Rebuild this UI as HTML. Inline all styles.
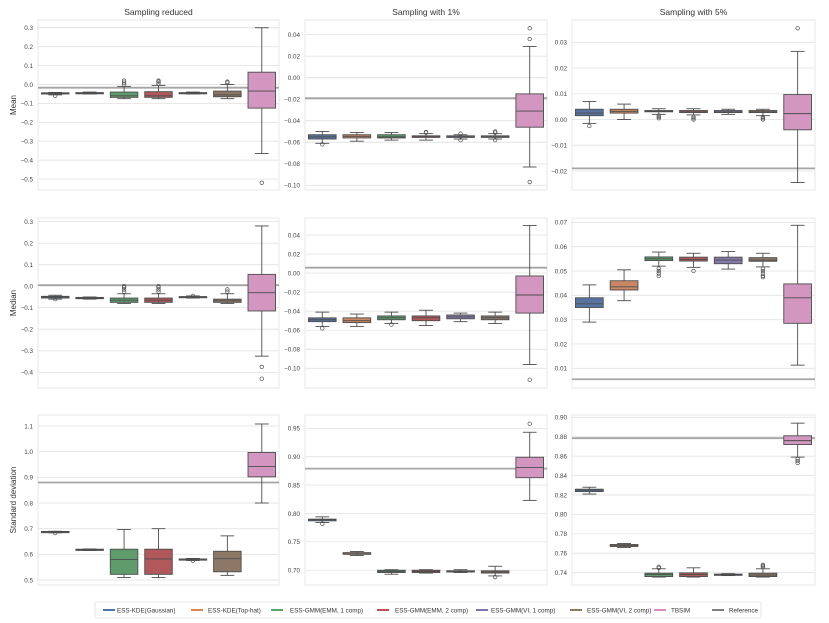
<!DOCTYPE html>
<html><head><meta charset="utf-8"><style>
body{margin:0;background:#fff;}
svg{display:block;font-family:"Liberation Sans",sans-serif;}
</style></head><body>
<svg id="fig" width="829" height="623" viewBox="0 0 829 623" xmlns="http://www.w3.org/2000/svg"></svg>
<script>
const categories = ["ESS-KDE(Gaussian)","ESS-KDE(Top-hat)","ESS-GMM(EMM, 1 comp)","ESS-GMM(EMM, 2 comp)","ESS-GMM(VI, 1 comp)","ESS-GMM(VI, 2 comp)","TBSIM"];
const colTitles = ["Sampling reduced","Sampling with 1%","Sampling with 5%"];
const rowTitles = ["Mean","Median","Standard deviation"];
// each box: [whisker low, q1, median, q3, whisker high, [outliers]]
const meanReduced = [[-0.055,-0.05,-0.047,-0.044,-0.042,[-0.06]],[-0.05,-0.048,-0.046,-0.043,-0.04,[]],[-0.075,-0.068,-0.06,-0.04,-0.01,[0,0.01,0.02]],[-0.075,-0.068,-0.06,-0.038,-0.005,[0.005,0.015,0.02]],[-0.05,-0.047,-0.045,-0.043,-0.04,[]],[-0.075,-0.065,-0.055,-0.035,0,[0.01,0.015]],[-0.365,-0.125,-0.035,0.065,0.3,[-0.52]]];
const mean1 = [[-0.061,-0.057,-0.055,-0.053,-0.05,[-0.062]],[-0.059,-0.056,-0.0545,-0.053,-0.051,[]],[-0.058,-0.056,-0.055,-0.053,-0.051,[]],[-0.058,-0.0555,-0.055,-0.054,-0.052,[-0.051,-0.0505]],[-0.057,-0.0555,-0.055,-0.054,-0.053,[-0.052,-0.058]],[-0.057,-0.0555,-0.055,-0.054,-0.052,[-0.05,-0.051,-0.058]],[-0.083,-0.046,-0.031,-0.015,0.029,[0.036,0.046,-0.097]]];
const mean5 = [[-0.0015,0.0015,0.0025,0.004,0.007,[-0.0025]],[0,0.0025,0.0032,0.004,0.006,[]],[0.002,0.003,0.0032,0.0035,0.0042,[0.0005,0.001,0.0015]],[0.0018,0.0027,0.003,0.0035,0.0042,[0,0.0005,0.001]],[0.002,0.0027,0.003,0.0035,0.004,[]],[0.0015,0.0027,0.003,0.0035,0.004,[0,0.0005,0.001]],[-0.0245,-0.004,0.0023,0.0097,0.0265,[0.0355]]];
const medReduced = [[-0.06,-0.055,-0.05,-0.047,-0.042,[-0.06]],[-0.06,-0.058,-0.055,-0.052,-0.05,[]],[-0.08,-0.075,-0.065,-0.055,-0.035,[-0.025,-0.015,-0.005,0]],[-0.08,-0.075,-0.065,-0.055,-0.035,[-0.025,-0.015,-0.005,0]],[-0.055,-0.053,-0.05,-0.048,-0.045,[-0.045]],[-0.08,-0.075,-0.068,-0.06,-0.035,[-0.025,-0.015]],[-0.325,-0.115,-0.03,0.055,0.28,[-0.375,-0.43]]];
const med1 = [[-0.056,-0.051,-0.049,-0.047,-0.041,[-0.058]],[-0.056,-0.052,-0.05,-0.047,-0.043,[]],[-0.053,-0.049,-0.047,-0.045,-0.041,[-0.054]],[-0.055,-0.05,-0.047,-0.045,-0.039,[]],[-0.051,-0.048,-0.046,-0.044,-0.042,[]],[-0.053,-0.049,-0.047,-0.045,-0.041,[]],[-0.096,-0.042,-0.023,-0.003,0.05,[-0.112]]];
const med5 = [[0.029,0.035,0.0365,0.039,0.0443,[]],[0.0378,0.0422,0.0435,0.046,0.0505,[]],[0.052,0.0543,0.055,0.0558,0.0578,[0.048,0.049,0.05,0.051]],[0.0515,0.0541,0.0547,0.0557,0.0573,[0.05]],[0.0508,0.053,0.0545,0.0557,0.058,[]],[0.0517,0.054,0.0545,0.0555,0.0573,[0.0475,0.048,0.049,0.05,0.051]],[0.0113,0.0285,0.039,0.0447,0.0688,[]]];
const sdReduced = [[0.684,0.686,0.688,0.689,0.69,[0.683]],[0.615,0.616,0.618,0.62,0.621,[]],[0.51,0.522,0.58,0.62,0.697,[]],[0.51,0.522,0.582,0.62,0.7,[]],[0.576,0.578,0.58,0.582,0.584,[0.575]],[0.518,0.532,0.583,0.612,0.672,[]],[0.8,0.902,0.942,0.997,1.108,[]]];
const sd1 = [[0.784,0.787,0.789,0.79,0.794,[0.782]],[0.726,0.728,0.73,0.731,0.733,[]],[0.693,0.696,0.698,0.7,0.701,[]],[0.695,0.696,0.698,0.7,0.701,[]],[0.696,0.697,0.698,0.699,0.701,[]],[0.69,0.695,0.697,0.699,0.707,[0.688]],[0.823,0.863,0.881,0.899,0.943,[0.958]]];
const sd5 = [[0.821,0.8235,0.825,0.826,0.828,[]],[0.766,0.767,0.768,0.769,0.77,[]],[0.7355,0.736,0.738,0.7395,0.744,[0.745,0.746]],[0.7355,0.736,0.738,0.7398,0.745,[]],[0.737,0.7375,0.738,0.7385,0.739,[]],[0.7355,0.736,0.7375,0.7395,0.744,[0.746,0.747,0.748]],[0.859,0.872,0.876,0.881,0.894,[0.853,0.855,0.857]]];
const referenceValues = [[-0.017,-0.019,-0.019],[0.005,0.0057,0.0055],[0.88,0.879,0.8785]];
const yLimits = [[[-0.558,0.341],[-0.1044,0.0537],[-0.0274,0.0387]],[[-0.473,0.317],[-0.1207,0.0579],[0.0019,0.0718]],[[0.4805,1.143],[0.674,0.9734],[0.7273,0.9024]]];
const tickLabels = [[["0.3","0.2","0.1","0.0","−0.1","−0.2","−0.3","−0.4","−0.5"],["0.04","0.02","0.00","−0.02","−0.04","−0.06","−0.08","−0.10"],["0.03","0.02","0.01","0.00","−0.01","−0.02"]],[["0.3","0.2","0.1","0.0","−0.1","−0.2","−0.3","−0.4"],["0.04","0.02","0.00","−0.02","−0.04","−0.06","−0.08","−0.10"],["0.07","0.06","0.05","0.04","0.03","0.02","0.01"]],[["1.1","1.0","0.9","0.8","0.7","0.6","0.5"],["0.95","0.90","0.85","0.80","0.75","0.70"],["0.90","0.88","0.86","0.84","0.82","0.80","0.78","0.76","0.74"]]];
const panelData = [[meanReduced,mean1,mean5],[medReduced,med1,med5],[sdReduced,sd1,sd5]];
const colors = ["#4c72b0","#dd8452","#55a868","#c44e52","#8172b3","#937860","#da8bc3"];

const NS="http://www.w3.org/2000/svg";
const svg=document.getElementById('fig');
function mk(tag,attrs,parent){const e=document.createElementNS(NS,tag);for(const k in attrs)e.setAttribute(k,attrs[k]);(parent||svg).appendChild(e);return e;}
const colX=[[38,279],[305,547],[572,815]];
const rowY=[[20,190],[218,388],[415,585]];
function mix(hex,s){const r=parseInt(hex.substr(1,2),16),g=parseInt(hex.substr(3,2),16),b=parseInt(hex.substr(5,2),16);const gr=(r+g+b)/3;return `rgb(${Math.round(gr+(r-gr)*s)},${Math.round(gr+(g-gr)*s)},${Math.round(gr+(b-gr)*s)})`;}

for(let r=0;r<3;r++){for(let c=0;c<3;c++){
  const [x0,x1]=colX[c],[y0,y1]=rowY[r],[lo,hi]=yLimits[r][c];
  const g=mk('g',{});
  
  
  const y=v=>y1-(v-lo)/(hi-lo)*(y1-y0);
  const xc=i=>x0+(i+0.5)*(x1-x0)/categories.length;
  const bw=(x1-x0)/categories.length*0.8;
  mk('rect',{x:x0,y:y0,width:x1-x0,height:y1-y0,fill:'#fff',stroke:'#ebebeb','stroke-width':1.2},g);
  tickLabels[r][c].forEach(t=>{const v=parseFloat(t.replace('−','-'));const yy=y(v);
    const gl=mk('line',{x1:x0,x2:x1,y1:yy,y2:yy,stroke:'#e4e4e4','stroke-width':0.9},g);
    
    const tl=mk('text',{x:x0-5,y:yy+2.3,'font-size':6.3,fill:'#444','text-anchor':'end'},g);tl.textContent=t;
    });
  const ry=y(referenceValues[r][c]);
  const rl=mk('line',{x1:x0,x2:x1,y1:ry,y2:ry,stroke:'#a5a5a5','stroke-width':1.8},g);
  
  panelData[r][c].forEach((d,i)=>{const cx=xc(i);const [wl,q1,md,q3,wh,outs]=d;
    const bg=mk('g',{},g);
    const st='#4d4d4d';
    mk('line',{x1:cx,x2:cx,y1:y(q3),y2:y(wh),stroke:st,'stroke-width':0.9},bg);
    mk('line',{x1:cx,x2:cx,y1:y(q1),y2:y(wl),stroke:st,'stroke-width':0.9},bg);
    mk('line',{x1:cx-bw/4,x2:cx+bw/4,y1:y(wh),y2:y(wh),stroke:st,'stroke-width':0.9},bg);
    mk('line',{x1:cx-bw/4,x2:cx+bw/4,y1:y(wl),y2:y(wl),stroke:st,'stroke-width':0.9},bg);
    const h=Math.max(y(q1)-y(q3),1.2);
    mk('rect',{x:cx-bw/2,y:y(q3),width:bw,height:h,fill:mix(colors[i],0.75),stroke:st,'stroke-width':0.9},bg);
    mk('line',{x1:cx-bw/2,x2:cx+bw/2,y1:y(md),y2:y(md),stroke:st,'stroke-width':0.9},bg);
    outs.forEach(o=>{const oc=mk('circle',{cx:cx,cy:y(o),r:1.8,fill:'none',stroke:st,'stroke-width':0.7},bg);});
  });
  if(r===0){const t=mk('text',{x:(x0+x1)/2,y:15,'font-size':8.5,fill:'#333','text-anchor':'middle'});t.textContent=colTitles[c];}
  if(c===0){const t=mk('text',{x:0,y:0,'font-size':8,fill:'#333','text-anchor':'middle',transform:`translate(16,${(y0+y1)/2}) rotate(-90)`});t.textContent=rowTitles[r];}
}}
// legend
const lg=mk('g',{});
mk('rect',{x:95,y:602,width:666,height:16,fill:'#fff',stroke:'#e0e0e0','stroke-width':0.8,rx:2},lg);
const legendNames=categories.concat(["Reference"]);
const legendColors=colors.concat(["#808080"]);
const legLineX=[103,191,271,377,476,570,654,712];
const legTextX=[117,208,290,395,491,587,671,729];
legendNames.forEach((n,i)=>{const e=mk('g',{},lg);
  mk('line',{x1:legLineX[i],x2:legLineX[i]+12,y1:610,y2:610,stroke:legendColors[i],'stroke-width':2},e);
  const t=mk('text',{x:legTextX[i],y:612.5,'font-size':6.3,fill:'#333'},e);t.textContent=n;});
</script>
</body></html>
